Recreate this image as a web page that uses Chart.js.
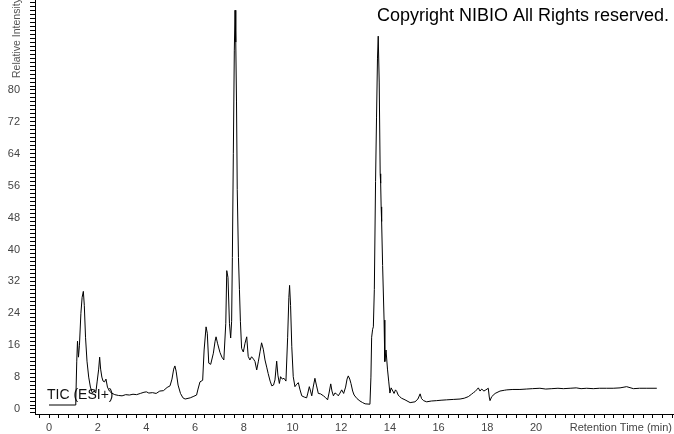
<!DOCTYPE html>
<html>
<head>
<meta charset="utf-8">
<script src="https://cdn.jsdelivr.net/npm/chart.js@4.4.1/dist/chart.umd.min.js"></script>
<style>
  html, body { margin: 0; padding: 0; background: #fff; }
  #wrap { width: 674px; height: 434px; }
</style>
</head>
<body>
<div id="wrap"><canvas id="ticChart" width="674" height="434"></canvas></div>
<script>
// --- DATA ---
const retentionTimes = [
  0.00, 1.07, 1.10, 1.14, 1.17, 1.21, 1.25, 1.31, 1.36, 1.41, 1.45, 1.50, 1.56, 1.63, 1.70, 1.78, 1.85, 1.92,
  1.98, 2.04, 2.08, 2.12, 2.17, 2.22, 2.28, 2.34, 2.40, 2.48, 2.57, 2.70, 2.85, 3.00, 3.15, 3.30, 3.45, 3.60,
  3.75, 3.90, 4.00, 4.10, 4.25, 4.40, 4.55, 4.70, 4.85, 4.97, 5.05, 5.12, 5.17, 5.22, 5.30, 5.40, 5.50, 5.59,
  5.80, 5.95, 6.06, 6.12, 6.20, 6.31, 6.37, 6.45, 6.50, 6.56, 6.64, 6.75, 6.82, 6.86, 6.92, 7.02, 7.10, 7.18,
  7.26, 7.30, 7.35, 7.41, 7.46, 7.50, 7.53, 7.57, 7.61, 7.64, 7.67, 7.70, 7.73, 7.78, 7.82, 7.86, 7.91, 7.98,
  8.05, 8.12, 8.18, 8.25, 8.32, 8.40, 8.46, 8.53, 8.60, 8.67, 8.73, 8.80, 8.87, 8.94, 9.00, 9.08, 9.15, 9.22,
  9.28, 9.35, 9.40, 9.46, 9.51, 9.58, 9.65, 9.73, 9.80, 9.85, 9.88, 9.92, 9.97, 10.03, 10.10, 10.17, 10.24, 10.30,
  10.38, 10.48, 10.58, 10.63, 10.69, 10.74, 10.79, 10.85, 10.92, 10.98, 11.06, 11.15, 11.27, 11.35, 11.44, 11.50,
  11.57, 11.62, 11.68, 11.74, 11.79, 11.88, 11.95, 12.02, 12.10, 12.18, 12.24, 12.29, 12.35, 12.40, 12.47, 12.53,
  12.65, 12.77, 12.88, 12.98, 13.18, 13.22, 13.25, 13.29, 13.32, 13.36, 13.41, 13.45, 13.49, 13.52, 13.56, 13.60,
  13.62, 13.64, 13.66, 13.70, 13.76, 13.79, 13.84, 13.90, 13.95, 14.00, 14.05, 14.12, 14.17, 14.23, 14.28, 14.34,
  14.40, 14.48, 14.62, 14.83, 15.03, 15.15, 15.24, 15.30, 15.38, 15.51, 15.70, 15.92, 16.10, 16.33, 16.60, 16.88,
  17.05, 17.22, 17.35, 17.43, 17.50, 17.56, 17.63, 17.70, 17.77, 17.86, 17.94, 18.04, 18.08, 18.11, 18.18, 18.32,
  18.52, 18.70, 18.80, 19.05, 19.34, 19.60, 19.85, 20.16, 20.40, 20.65, 20.90, 21.12, 21.40, 21.65, 21.85, 22.08,
  22.35, 22.60, 22.90, 23.17, 23.45, 23.72, 24.00, 24.25, 24.55, 24.96
];
const intensities = [
  1.0, 1.0, 2.0, 12, 17, 13, 16, 24, 28, 29.5, 26, 18, 12, 8, 5.5, 4, 4.5, 4,
  7, 10, 13, 10, 8, 7, 6.8, 7.5, 5.5, 4.5, 4, 3.6, 3.4, 3.3, 3.6, 3.5, 3.7, 3.6,
  3.9, 4.2, 4.3, 4.0, 4.1, 3.9, 4.5, 4.6, 5.4, 5.8, 7.5, 10, 10.8, 9.5, 6, 3.9, 2.8, 2.5,
  2.8, 3.2, 3.5, 5, 6.8, 7.2, 14.8, 20.6, 19, 11.5, 11.2, 14, 17, 18.1, 16.5, 14.2, 13, 12.3,
  21.5, 34.7, 33, 21.5, 17.8, 22, 38, 64, 90, 100, 92, 77, 55, 38, 30, 22, 15.2, 14.3,
  16.5, 18.1, 13.2, 12.3, 13.1, 12.5, 11.9, 9.8, 12, 14.5, 16.6, 15, 12.3, 10.5, 8.9, 7, 5.8, 6,
  7.3, 12, 8.5, 6.4, 8.1, 7.5, 7.7, 7, 18, 28, 31, 26, 15.6, 8.1, 5.6, 6.2, 6.6, 5,
  3.3, 3, 2.8, 4, 5.6, 4.5, 3.3, 5.5, 7.7, 6, 3.9, 3.8, 3.3, 2.9, 2.3, 4,
  6.3, 4.5, 3.3, 4, 3.9, 3.3, 4, 4.8, 3.9, 5.5, 7.5, 8.3, 7.5, 6.4, 4.5, 3.5,
  2.6, 2, 1.6, 1.3, 1.2, 8, 18, 20, 20.6, 30, 57, 73, 88, 93.5, 82, 59,
  56.6, 50.7, 47, 36, 22.3, 11.9, 14.8, 10, 7, 4, 5.3, 4.5, 3.9, 4.8, 4.4, 3.5,
  3.1, 2.7, 2.3, 1.6, 1.8, 2.5, 3.8, 2.6, 2.1, 1.8, 2.0, 2.1, 2.2, 2.3, 2.4, 2.5,
  2.7, 3.1, 3.7, 4.1, 4.4, 4.8, 5.3, 4.5, 5.0, 4.5, 4.8, 5.2, 3.0, 2.1, 3.1, 3.9,
  4.5, 4.7, 4.8, 4.9, 4.9, 5.0, 5.1, 5.2, 5.0, 5.1, 5.2, 5.1, 5.2, 5.3, 5.1, 5.2,
  5.1, 5.2, 5.2, 5.2, 5.3, 5.6, 5.1, 5.2, 5.2, 5.2
];
const xLabelValues = [0, 2, 4, 6, 8, 10, 12, 14, 16, 18, 20];
const yLabelValues = [0, 8, 16, 24, 32, 40, 48, 56, 64, 72, 80];

const traceLabel = 'TIC (ESI+)';
const copyrightText = 'Copyright NIBIO All Rights reserved.';
const xTitle = 'Retention Time (min)';
const yTitle = 'Relative Intensity';

// minor tick positions
const xTicks = [];
for (let i = -1; i <= 64; i++) xTicks.push(Math.round(i * 0.4 * 10) / 10);
const yTicks = [];
for (let i = -1; i <= 102; i++) yTicks.push(i);

const points = retentionTimes.map((t, i) => ({ x: t, y: intensities[i] }));

// --- TEXT OVERLAYS ---
const textPlugin = {
  id: 'textOverlay',
  beforeDatasetsDraw(chart) {
    const ctx = chart.ctx;
    ctx.save();
    ctx.fillStyle = '#111';
    ctx.font = '14px "Liberation Sans", Arial, sans-serif';
    ctx.textBaseline = 'middle';
    ctx.textAlign = 'left';
    ctx.fillText(traceLabel, 47, 395);
    ctx.restore();
  },
  afterDraw(chart) {
    const ctx = chart.ctx;
    ctx.save();
    ctx.fillStyle = '#000';
    ctx.font = '18px "Liberation Sans", Arial, sans-serif';
    ctx.textBaseline = 'alphabetic';
    ctx.textAlign = 'left';
    ctx.fillText(copyrightText, 377, 21);

    ctx.fillStyle = '#444';
    ctx.font = '11px "Liberation Sans", Arial, sans-serif';
    ctx.textAlign = 'right';
    ctx.textBaseline = 'middle';
    ctx.fillText(xTitle, 672, 428);

    ctx.font = '10.5px "Liberation Sans", Arial, sans-serif';
    ctx.fillStyle = '#555';
    ctx.translate(17, 78);
    ctx.rotate(-Math.PI / 2);
    ctx.textAlign = 'left';
    ctx.fillText(yTitle, 0, 0);
    ctx.restore();
  }
};

new Chart(document.getElementById('ticChart'), {
  type: 'line',
  data: {
    datasets: [{
      data: points,
      borderColor: '#000',
      borderWidth: 1,
      pointRadius: 0,
      tension: 0,
      fill: false
    }]
  },
  options: {
    responsive: false,
    animation: false,
    devicePixelRatio: 1,
    layout: { autoPadding: false, padding: { left: 0, top: 0, right: 1, bottom: 0 } },
    plugins: { legend: { display: false }, tooltip: { enabled: false } },
    scales: {
      x: {
        type: 'linear',
        min: -0.575,
        max: 25.625,
        afterFit: (s) => { s.height = 20; s.paddingLeft = 0; s.paddingRight = 0; },
        afterBuildTicks: (s) => { s.ticks = xTicks.map(v => ({ value: v })); },
        border: { display: true, color: '#000', width: 1 },
        grid: { drawOnChartArea: false, drawTicks: true, tickLength: 4, color: '#000' },
        ticks: {
          autoSkip: false,
          maxRotation: 0,
          padding: 3,
          color: '#444',
          font: { family: '"Liberation Sans", Arial, sans-serif', size: 11 },
          callback: (v) => xLabelValues.includes(v) ? String(v) : ''
        }
      },
      y: {
        type: 'linear',
        min: -1.254,
        max: 102.57,
        afterFit: (s) => { s.width = 35; s.paddingTop = 0; s.paddingBottom = 0; },
        afterBuildTicks: (s) => { s.ticks = yTicks.map(v => ({ value: v })); },
        border: { display: true, color: '#000', width: 1 },
        grid: { drawOnChartArea: false, drawTicks: true, tickLength: 5, color: '#000' },
        ticks: {
          autoSkip: false,
          padding: 10,
          color: '#444',
          font: { family: '"Liberation Sans", Arial, sans-serif', size: 11 },
          callback: (v) => yLabelValues.includes(v) ? String(v) : ''
        }
      }
    }
  },
  plugins: [textPlugin]
});
</script>
</body>
</html>
